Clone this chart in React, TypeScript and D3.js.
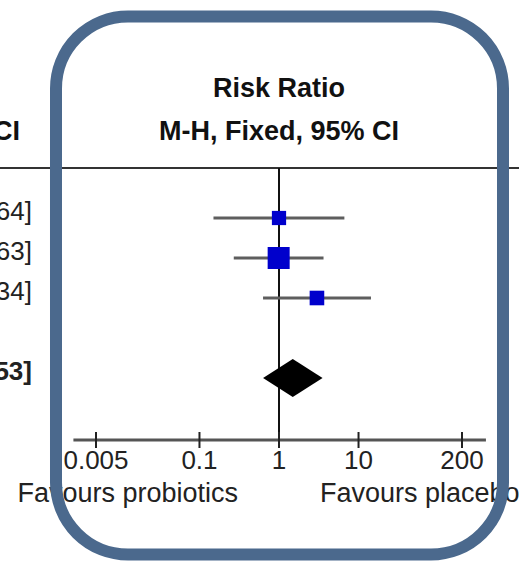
import { useEffect, useRef } from 'react';
import * as d3 from 'd3';

// study rows (names are cropped out of the picture, only the CI text tail shows)
const studyRR = [1.0, 0.99, 3.0];
const studyLow = [0.15, 0.27, 0.63];
const studyHigh = [6.64, 3.63, 14.34];
const studyWeight = [22.5, 53.8, 23.7];
const studyText = ['1.00 [0.15, 6.64]', '0.99 [0.27, 3.63]', '3.00 [0.63, 14.34]'];

const totalRR = 1.49;
const totalLow = 0.63;
const totalHigh = 3.53;
const totalText = '1.49 [0.63, 3.53]';

const tickValues = [0.005, 0.1, 1, 10, 200];
const tickLabels = ['0.005', '0.1', '1', '10', '200'];

const FONT = '"Liberation Sans", Arial, sans-serif';

export default function App() {
  const svgRef = useRef<SVGSVGElement | null>(null);

  useEffect(() => {
    const width = 519;
    const height = 563;
    const svg = d3.select(svgRef.current);
    svg.attr('viewBox', `0 0 ${width} ${height}`);
    svg.selectAll('*').remove();

    const x = d3.scaleLog().domain([0.005, 200]).range([96, 462]);
    const y = d3.scaleLinear().domain([0, 4]).range([218, 378]);
    const size = d3.scaleSqrt().domain([0, 53.8]).range([0, 22]);

    const axisY = 440;
    const headerLine = 168;

    svg.append('rect').attr('width', width).attr('height', height).attr('fill', '#fff');

    // header
    const head = svg.append('g').attr('font-family', FONT).attr('font-weight', 'bold').attr('fill', '#111');
    head.append('text').attr('x', x(1)).attr('y', 97).attr('text-anchor', 'middle').attr('font-size', 27).text('Risk Ratio');
    head.append('text').attr('x', x(1)).attr('y', 140).attr('text-anchor', 'middle').attr('font-size', 27).text('M-H, Fixed, 95% CI');
    head.append('text').attr('x', 20).attr('y', 140).attr('text-anchor', 'end').attr('font-size', 27).text('M-H, Fixed, 95% CI');

    svg.append('line')
      .attr('x1', 0).attr('x2', width)
      .attr('y1', headerLine).attr('y2', headerLine)
      .attr('stroke', '#333').attr('stroke-width', 2);

    // CI text column (right aligned, cropped)
    const txt = svg.append('g').attr('font-family', FONT).attr('font-size', 26).attr('fill', '#222').attr('text-anchor', 'end');
    studyText.forEach((t, i) => {
      txt.append('text').attr('x', 32).attr('y', y(i) + 2).text(t);
    });
    txt.append('text').attr('x', 32).attr('y', y(4) + 2).attr('font-weight', 'bold').text(totalText);

    // line of no effect
    svg.append('line')
      .attr('x1', x(1)).attr('x2', x(1))
      .attr('y1', headerLine).attr('y2', axisY)
      .attr('stroke', '#111').attr('stroke-width', 2);

    // study CIs and squares
    studyRR.forEach((rr, i) => {
      svg.append('line')
        .attr('x1', x(studyLow[i])).attr('x2', x(studyHigh[i]))
        .attr('y1', y(i)).attr('y2', y(i))
        .attr('stroke', '#5e5e5e').attr('stroke-width', 3);
      const s = size(studyWeight[i]);
      svg.append('rect')
        .attr('x', x(rr) - s / 2).attr('y', y(i) - s / 2)
        .attr('width', s).attr('height', s)
        .attr('fill', '#0000cc');
    });

    // pooled diamond
    const dy = y(4);
    const diamond = d3.line<[number, number]>()([
      [x(totalLow), dy],
      [x(totalRR), dy - 19],
      [x(totalHigh), dy],
      [x(totalRR), dy + 19],
    ]);
    svg.append('path').attr('d', diamond + 'Z').attr('fill', '#000');

    // axis
    svg.append('line')
      .attr('x1', x(0.0026)).attr('x2', x(400))
      .attr('y1', axisY).attr('y2', axisY)
      .attr('stroke', '#555').attr('stroke-width', 3);
    const ticks = svg.append('g');
    tickValues.forEach((v, i) => {
      ticks.append('line')
        .attr('x1', x(v)).attr('x2', x(v))
        .attr('y1', axisY - 8).attr('y2', axisY + 8)
        .attr('stroke', '#222').attr('stroke-width', 2);
      ticks.append('text')
        .attr('x', x(v)).attr('y', 469)
        .attr('text-anchor', 'middle')
        .attr('font-family', FONT).attr('font-size', 26).attr('fill', '#222')
        .text(tickLabels[i]);
    });

    const fav = svg.append('g').attr('font-family', FONT).attr('font-size', 27).attr('fill', '#222');
    fav.append('text').attr('x', x(1) - 41).attr('y', 502).attr('text-anchor', 'end').text('Favours probiotics');
    fav.append('text').attr('x', x(1) + 41).attr('y', 502).attr('text-anchor', 'start').text('Favours placebo');

    // highlight frame drawn over the plot
    svg.append('rect')
      .attr('x', 56).attr('y', 16.5)
      .attr('width', 447).attr('height', 538)
      .attr('rx', 72).attr('ry', 72)
      .attr('fill', 'none')
      .attr('stroke', '#4b698d')
      .attr('stroke-width', 12);
  }, []);

  return (
    <svg
      ref={svgRef}
      width={519}
      height={563}
      style={{ position: 'absolute', left: 0, top: 0, display: 'block' }}
    ></svg>
  );
}
